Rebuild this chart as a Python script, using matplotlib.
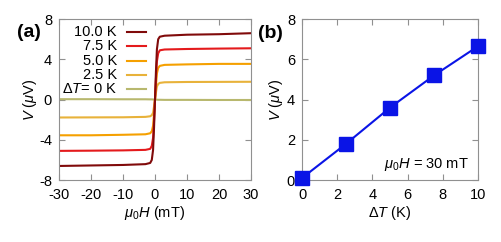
import numpy as np
import matplotlib
matplotlib.use("Agg")
import matplotlib.pyplot as plt

plt.rcParams['font.family'] = ['Liberation Sans', 'DejaVu Sans']
plt.rcParams['mathtext.fontset'] = 'custom'
plt.rcParams['mathtext.rm'] = 'Liberation Sans'
plt.rcParams['mathtext.it'] = 'Liberation Sans:italic'
plt.rcParams['axes.unicode_minus'] = False
plt.rcParams['font.size'] = 10

# ---- data: panel (a), V vs mu0 H ----
field_mT = [-30, -20, -10, -3, -1.5, -1.0, -0.6, -0.3, 0, 0.3, 0.6, 1.0, 1.5, 3, 10, 20, 30]
v_10K = [-6.6, -6.55, -6.5, -6.42, -6.3, -6.0, -5.0, -2.8, 0, 2.8, 5.0, 6.0, 6.25, 6.35, 6.45, 6.5, 6.6]
v_7p5K = [-5.1, -5.08, -5.05, -5.0, -4.9, -4.6, -3.8, -2.1, 0, 2.1, 3.8, 4.6, 4.9, 4.98, 5.03, 5.07, 5.1]
v_5K = [-3.55, -3.55, -3.5, -3.45, -3.35, -3.15, -2.6, -1.4, 0, 1.4, 2.6, 3.15, 3.35, 3.45, 3.5, 3.55, 3.55]
v_2p5K = [-1.78, -1.77, -1.76, -1.72, -1.66, -1.55, -1.3, -0.7, 0, 0.7, 1.3, 1.55, 1.66, 1.72, 1.75, 1.76, 1.77]
v_0K = [0.04, 0.04, 0.03, 0.03, 0.02, 0.02, 0.01, 0.0, 0, 0, -0.01, -0.02, -0.02, -0.03, -0.03, -0.04, -0.04]

labels_a = ["10.0 K", "7.5 K", "5.0 K", "2.5 K", r"$\Delta T$= 0 K"]
series_a = [v_10K, v_7p5K, v_5K, v_2p5K, v_0K]
colors_a = ["#800a0a", "#e41a1c", "#f5a000", "#e8b23a", "#b8b86e"]

# ---- data: panel (b), V vs delta T at 30 mT ----
dT_K = [0, 2.5, 5.0, 7.5, 10.0]
v_30mT = [0.1, 1.8, 3.6, 5.2, 6.65]

frame = "#909090"

fig = plt.figure(figsize=(5.02, 2.42), dpi=100)
ax1 = fig.add_axes([0.1175, 0.256, 0.3825, 0.665])
ax2 = fig.add_axes([0.6016, 0.256, 0.3506, 0.665])

for ax in (ax1, ax2):
    for s in ax.spines.values():
        s.set_color(frame)
        s.set_linewidth(0.8)
    ax.tick_params(direction='in', top=True, right=True, color=frame,
                   length=4, width=0.8, labelsize=10.5)
    ax.tick_params(axis='x', pad=6)
    ax.tick_params(axis='y', pad=5)

# panel (a): draw lowest curve first so 10 K ends on top
for v, c in zip(series_a[::-1], colors_a[::-1]):
    ax1.plot(field_mT, v, color=c, lw=1.5)

# gnuplot-style key: right aligned text, sample line after it
for i, (lab, c) in enumerate(zip(labels_a, colors_a)):
    y = 0.919 - i * 0.089
    ax1.text(0.302, y, lab, transform=ax1.transAxes, ha='right', va='center', fontsize=10.5)
    ax1.plot([0.354, 0.453], [y, y], transform=ax1.transAxes, color=c, lw=1.5)

ax1.set_xlim(-30, 30)
ax1.set_ylim(-8, 8)
ax1.set_xticks([-30, -20, -10, 0, 10, 20, 30])
ax1.set_yticks([-8, -4, 0, 4, 8])
ax1.set_xlabel(r"$\mu_0H$ (mT)", fontsize=10.5, labelpad=1)
ax1.set_ylabel(r"$V$ ($\mu$V)", fontsize=10.5, labelpad=0)
fig.text(0.034, 0.867, "(a)", fontsize=14, fontweight='bold', va='center')

# panel (b)
ax2.plot(dT_K, v_30mT, color="#0a14e6", lw=1.5, marker='s', markersize=10,
         clip_on=False, zorder=3)
ax2.set_xlim(0, 10)
ax2.set_ylim(0, 8)
ax2.set_xticks([0, 2, 4, 6, 8, 10])
ax2.set_yticks([0, 2, 4, 6, 8])
ax2.set_xlabel(r"$\Delta T$ (K)", fontsize=10.5, labelpad=1)
ax2.set_ylabel(r"$V$ ($\mu$V)", fontsize=10.5, labelpad=1)
ax2.text(0.95, 0.095, r"$\mu_0H$ = 30 mT", transform=ax2.transAxes,
         ha='right', va='center', fontsize=10.5)
fig.text(0.514, 0.863, "(b)", fontsize=14, fontweight='bold', va='center')

fig.savefig("out.png", dpi=100)
